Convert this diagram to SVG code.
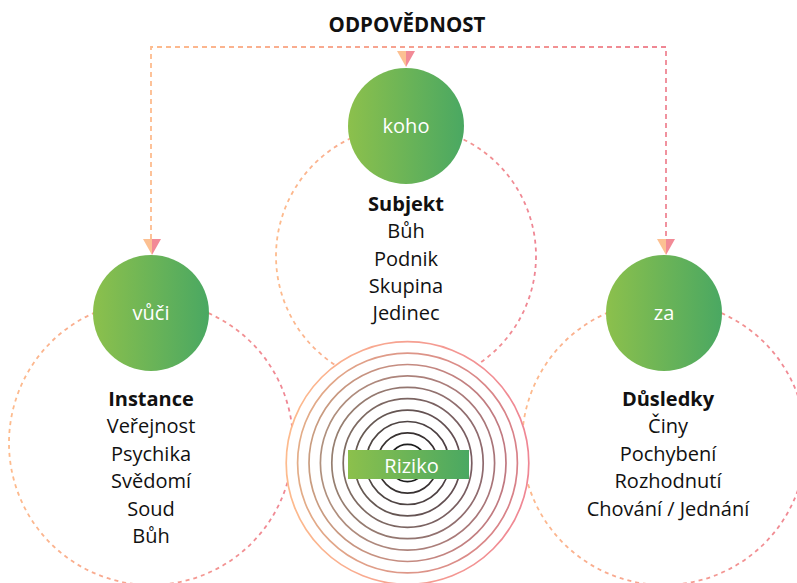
<svg xmlns="http://www.w3.org/2000/svg" width="797" height="583" viewBox="0 0 797 583">
  <defs>
    <linearGradient id="green" x1="0" y1="0" x2="1" y2="0">
      <stop offset="0" stop-color="#8cc04c"/>
      <stop offset="1" stop-color="#4aa862"/>
    </linearGradient>
    <linearGradient id="warm" x1="0" y1="0" x2="1" y2="0">
      <stop offset="0" stop-color="#fdbb8d"/>
      <stop offset="1" stop-color="#ef8694"/>
    </linearGradient>
    <linearGradient id="arrowFill" x1="0" y1="0" x2="1" y2="0">
      <stop offset="0.5" stop-color="#fcc092"/>
      <stop offset="0.5" stop-color="#f28a96"/>
    </linearGradient>
    <linearGradient id="r0" x1="0" y1="0" x2="1" y2="0"><stop offset="0" stop-color="#fdbb8d"/><stop offset="1" stop-color="#ef8694"/></linearGradient>
    <linearGradient id="r1" x1="0" y1="0" x2="1" y2="0"><stop offset="0" stop-color="#e3ad88"/><stop offset="1" stop-color="#d88088"/></linearGradient>
    <linearGradient id="r2" x1="0" y1="0" x2="1" y2="0"><stop offset="0" stop-color="#c99d80"/><stop offset="1" stop-color="#c07880"/></linearGradient>
    <linearGradient id="r3" x1="0" y1="0" x2="1" y2="0"><stop offset="0" stop-color="#b0917e"/><stop offset="1" stop-color="#a87478"/></linearGradient>
    <linearGradient id="r4" x1="0" y1="0" x2="1" y2="0"><stop offset="0" stop-color="#967f70"/><stop offset="1" stop-color="#8f6a6e"/></linearGradient>
    <linearGradient id="r5" x1="0" y1="0" x2="1" y2="0"><stop offset="0" stop-color="#7e6c62"/><stop offset="1" stop-color="#785c60"/></linearGradient>
    <linearGradient id="r6" x1="0" y1="0" x2="1" y2="0"><stop offset="0" stop-color="#665a53"/><stop offset="1" stop-color="#624d51"/></linearGradient>
    <linearGradient id="r7" x1="0" y1="0" x2="1" y2="0"><stop offset="0" stop-color="#4f4743"/><stop offset="1" stop-color="#4c3f42"/></linearGradient>
    <linearGradient id="r8" x1="0" y1="0" x2="1" y2="0"><stop offset="0" stop-color="#383331"/><stop offset="1" stop-color="#372f31"/></linearGradient>
    <linearGradient id="r9" x1="0" y1="0" x2="1" y2="0"><stop offset="0" stop-color="#1e1e1e"/><stop offset="1" stop-color="#1e1e1e"/></linearGradient>
  </defs>
  <style>
    text { font-family: "Open Sans", "Noto Sans", "DejaVu Sans", sans-serif; font-size: 20px; text-anchor: middle; fill: #111; }
    .b { font-weight: bold; }
    .t { font-size: 20.5px; }
    .w { fill: #ffffff; }
    .dash { fill: none; stroke: url(#warm); stroke-width: 1.8; stroke-dasharray: 4 4; }
    .conn { fill: none; stroke: url(#warm); stroke-width: 1.8; stroke-dasharray: 5 4; }
    .ring { fill: none; stroke-width: 1.7; }
    .arrow { fill: url(#arrowFill); }
  </style>

  <text class="b t" x="407" y="32">ODPOVĚDNOST</text>

  <g id="connectors">
    <path class="conn" d="M151 239 V47 H666 V239"/>
    <polygon class="arrow" points="397,51 415,51 406,67"/>
    <polygon class="arrow" points="143,239 161,239 152,255"/>
    <polygon class="arrow" points="657,239 675,239 666,255"/>
  </g>

  <g id="node-koho">
    <circle class="dash" cx="406" cy="256" r="130"/>
    <circle cx="406" cy="126" r="58" fill="url(#green)"/>
    <text class="w" x="406" y="133">koho</text>
    <text class="b" x="406" y="211">Subjekt</text>
    <text x="406" y="238">Bůh</text>
    <text x="406" y="266">Podnik</text>
    <text x="406" y="293">Skupina</text>
    <text x="406" y="320">Jedinec</text>
  </g>

  <g id="node-vuci">
    <circle class="dash" cx="151" cy="443" r="142"/>
    <circle cx="151" cy="313" r="58" fill="url(#green)"/>
    <text class="w" x="151" y="320">vůči</text>
    <text class="b" x="151" y="406">Instance</text>
    <text x="151" y="433">Veřejnost</text>
    <text x="151" y="461">Psychika</text>
    <text x="151" y="488">Svědomí</text>
    <text x="151" y="516">Soud</text>
    <text x="151" y="543">Bůh</text>
  </g>

  <g id="node-za">
    <circle class="dash" cx="664" cy="443" r="142"/>
    <circle cx="664" cy="313" r="58" fill="url(#green)"/>
    <text class="w" x="664" y="320">za</text>
    <text class="b" x="668" y="406">Důsledky</text>
    <text x="668" y="433">Činy</text>
    <text x="668" y="461">Pochybení</text>
    <text x="668" y="488">Rozhodnutí</text>
    <text x="668" y="516">Chování / Jednání</text>
  </g>

  <g id="node-riziko">
    <circle cx="407.5" cy="463" r="121.3" fill="#ffffff"/>
    <circle class="ring" cx="407.5" cy="463" r="121.3" stroke="url(#r0)"/>
    <circle class="ring" cx="407.5" cy="463" r="109.9" stroke="url(#r1)"/>
    <circle class="ring" cx="407.5" cy="463" r="98.5" stroke="url(#r2)"/>
    <circle class="ring" cx="407.5" cy="463" r="87.1" stroke="url(#r3)"/>
    <circle class="ring" cx="407.5" cy="463" r="75.7" stroke="url(#r4)"/>
    <circle class="ring" cx="407.5" cy="463" r="64.3" stroke="url(#r5)"/>
    <circle class="ring" cx="407.5" cy="463" r="52.9" stroke="url(#r6)"/>
    <circle class="ring" cx="407.5" cy="463" r="41.5" stroke="url(#r7)"/>
    <circle class="ring" cx="407.5" cy="463" r="30.1" stroke="url(#r8)"/>
    <circle class="ring" cx="407.5" cy="463" r="18.7" stroke="url(#r9)"/>
    <rect x="348" y="450" width="121" height="29" fill="url(#green)"/>
    <text class="w" x="411.5" y="473">Riziko</text>
  </g>
</svg>
